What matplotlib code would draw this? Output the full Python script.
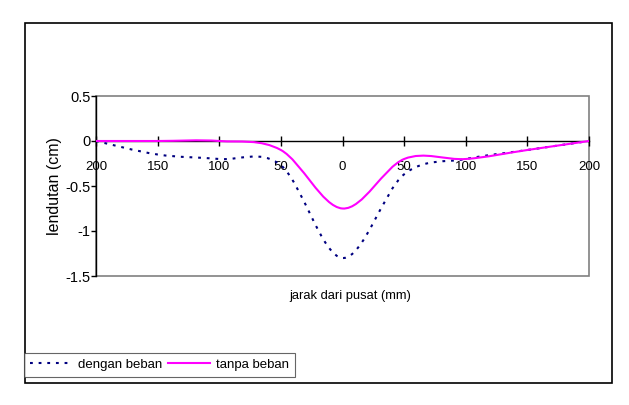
import matplotlib
matplotlib.use("Agg")
import matplotlib.pyplot as plt
from matplotlib.path import Path
from matplotlib.patches import PathPatch, Rectangle
from matplotlib.lines import Line2D

plt.rcParams['font.family'] = ['Liberation Sans', 'DejaVu Sans']

# jarak dari pusat (mm), left side negative
jarak = [-200, -150, -100, -50, 0, 50, 100, 150, 200]
tick_labels = ['200', '150', '100', '50', '0', '50', '100', '150', '200']
dengan_beban = [0.0, -0.15, -0.2, -0.27, -1.3, -0.37, -0.2, -0.1, 0.0]
tanpa_beban = [0.0, 0.0, 0.0, -0.1, -0.75, -0.2, -0.2, -0.1, 0.0]
y_ticks = [0.5, 0, -0.5, -1, -1.5]
y_tick_labels = ['0.5', '0', '-0.5', '-1', '-1.5']

navy = '#000080'
magenta = '#FF00FF'
dot_style = (0, (1.35, 2.8))


def smooth_path(xs, ys):
    # excel style smoothed line: bezier segments through the data points
    pts = list(zip(xs, ys))
    n = len(pts)
    verts = [pts[0]]
    codes = [Path.MOVETO]
    for i in range(n - 1):
        p0 = pts[i - 1] if i > 0 else pts[i]
        p1 = pts[i]
        p2 = pts[i + 1]
        p3 = pts[i + 2] if i + 2 < n else pts[i + 1]
        c1 = (p1[0] + (p2[0] - p0[0]) / 6, p1[1] + (p2[1] - p0[1]) / 6)
        c2 = (p2[0] - (p3[0] - p1[0]) / 6, p2[1] - (p3[1] - p1[1]) / 6)
        verts += [c1, c2, p2]
        codes += [Path.CURVE4] * 3
    return Path(verts, codes)


fig = plt.figure(figsize=(6.29, 4.05), dpi=100)
ax = fig.add_axes([96 / 629, 129 / 405, 493 / 629, 180 / 405])

ax.add_patch(PathPatch(smooth_path(jarak, dengan_beban), fill=False, ec=navy,
                       lw=1.5, linestyle=dot_style, capstyle='butt', zorder=3))
ax.add_patch(PathPatch(smooth_path(jarak, tanpa_beban), fill=False, ec=magenta,
                       lw=1.5, zorder=4))

ax.set_xlim(-200, 200)
ax.set_ylim(-1.5, 0.5)

# plot area border
ax.add_patch(Rectangle((0, 0), 1, 1, transform=ax.transAxes, fill=False,
                       ec='#808080', lw=1.2, zorder=1, clip_on=False))
ax.spines['top'].set_visible(False)
ax.spines['right'].set_visible(False)
ax.spines['bottom'].set_position(('data', 0))
ax.spines['bottom'].set_color('black')
ax.spines['left'].set_color('black')
ax.spines['bottom'].set_linewidth(1.0)
ax.spines['left'].set_linewidth(1.0)
ax.spines['bottom'].set_zorder(2)

ax.set_xticks(jarak)
ax.set_xticklabels(tick_labels)
ax.set_yticks(y_ticks)
ax.set_yticklabels(y_tick_labels)
ax.tick_params(axis='x', direction='inout', length=6.5, width=1.0, pad=11.5,
               labelsize=9.5)
ax.tick_params(axis='y', direction='out', length=3.5, width=1.0, pad=0.5,
               labelsize=10.5)

ax.set_xlabel('jarak dari pusat (mm)', fontsize=9.3)
ax.xaxis.set_label_coords(0.515, -0.075)
ax.set_ylabel('lendutan (cm)', fontsize=11.5)
ax.yaxis.set_label_coords(-0.068, 0.5)

# outer chart frame
fig.patches.append(Rectangle((25 / 629, 22 / 405), 587 / 629, 360 / 405,
                             transform=fig.transFigure, fill=False, ec='black',
                             lw=1.2))

handles = [Line2D([], [], color=navy, lw=1.5, linestyle=dot_style),
           Line2D([], [], color=magenta, lw=1.5)]
leg = fig.legend(handles, ['dengan beban', 'tanpa beban'], loc='lower left',
                 bbox_to_anchor=(24 / 629, 28 / 405), borderaxespad=0, ncol=2,
                 fontsize=9.5, handlelength=3.2, handletextpad=0.45,
                 columnspacing=0.4, borderpad=0.45, fancybox=False,
                 frameon=True)
leg.get_frame().set_edgecolor('#404040')
leg.get_frame().set_linewidth(0.8)

fig.savefig('out.png', dpi=100)
